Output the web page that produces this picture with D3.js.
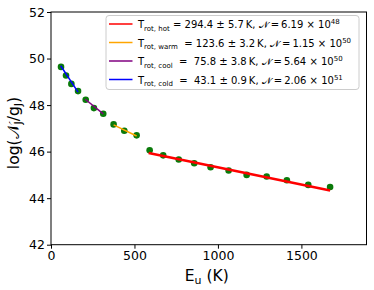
<!DOCTYPE html>
<html>
<head>
<meta charset="utf-8">
<script src="https://cdn.jsdelivr.net/npm/d3@7"></script>
<style>
  body { margin: 0; background: #fff; }
  text { font-family: "DejaVu Sans", sans-serif; }
</style>
</head>
<body>
<svg id="chart" width="374" height="290"></svg>
<script>
// measured points (E_u in K, log N/g)
const energies = [60, 90, 122, 162, 208, 257, 313, 375, 439, 513, 591, 672, 765, 858, 956, 1064, 1172, 1292, 1413, 1541, 1672];
const logN = [49.64, 49.27, 48.91, 48.60, 48.23, 47.87, 47.63, 47.17, 46.90, 46.70, 46.06, 45.84, 45.66, 45.50, 45.33, 45.19, 45.00, 44.93, 44.77, 44.57, 44.48];

// fitted components: endpoints [E start, E end], [log start, log end]
const fitNames = ['hot', 'warm', 'cool', 'cold'];
const fitColors = ['red', 'orange', 'purple', 'blue'];
const fitE = [[585, 1672], [375, 513], [205, 313], [58, 162]];
const fitLog = [[45.94, 44.33], [47.15, 46.67], [48.25, 47.62], [49.69, 48.56]];
const fitEq = [' = ', '  = ', '  =  ', '  =  '];
const fitT = ['294.4 ± 5.7', '123.6 ± 3.2', '75.8 ± 3.8', '43.1 ± 0.9'];
const fitNtot = ['6.19', '1.15', '5.64', '2.06'];
const fitExp = ['48', '50', '50', '51'];

const xTicks = [0, 500, 1000, 1500];
const yTicks = [42, 44, 46, 48, 50, 52];

const svg = d3.select('#chart');
const mLeft = 51, mRight = 366.5, mTop = 12, mBottom = 244.7;

const x = d3.scaleLinear().domain([0, 1890]).range([mLeft, mRight]);
const y = d3.scaleLinear().domain([42, 52]).range([mBottom, mTop]);

// axes
svg.append('g')
    .attr('transform', 'translate(0,' + mBottom + ')')
    .call(d3.axisBottom(x).tickValues(xTicks).tickFormat(d3.format('d')).tickSize(4).tickPadding(2))
    .call(g => g.selectAll('text').attr('font-size', 12.5).attr('fill', '#000'));

svg.append('g')
    .attr('transform', 'translate(' + mLeft + ',0)')
    .call(d3.axisLeft(y).tickValues(yTicks).tickSize(4).tickPadding(2))
    .call(g => g.selectAll('text').attr('font-size', 12.5).attr('fill', '#000'));

svg.selectAll('.domain').remove();
svg.append('rect')
    .attr('x', mLeft).attr('y', mTop)
    .attr('width', mRight - mLeft).attr('height', mBottom - mTop)
    .attr('fill', 'none').attr('stroke', '#000').attr('stroke-width', 1);

// points
svg.append('g')
    .selectAll('circle')
    .data(energies)
    .enter()
    .append('circle')
    .attr('cx', d => x(d))
    .attr('cy', (d, i) => y(logN[i]))
    .attr('r', 3.3)
    .attr('fill', '#0a7a0a');

// fit lines
svg.append('g')
    .selectAll('line')
    .data(fitNames)
    .enter()
    .append('line')
    .attr('x1', (d, i) => x(fitE[i][0]))
    .attr('x2', (d, i) => x(fitE[i][1]))
    .attr('y1', (d, i) => y(fitLog[i][0]))
    .attr('y2', (d, i) => y(fitLog[i][1]))
    .attr('stroke', (d, i) => fitColors[i])
    .attr('stroke-width', (d, i) => i == 0 ? 2.5 : 1.5);

// legend
let legend = svg.append('g');
legend.append('rect')
    .attr('x', 106).attr('y', 15.5)
    .attr('width', 253).attr('height', 74)
    .attr('rx', 3)
    .attr('fill', '#fff').attr('fill-opacity', 0.8)
    .attr('stroke', '#ccc').attr('stroke-width', 1);

fitNames.forEach(function(name, i) {
    let ly = 24 + i * 18.5;
    legend.append('line')
        .attr('x1', 109).attr('x2', 132.5)
        .attr('y1', ly).attr('y2', ly)
        .attr('stroke', fitColors[i]).attr('stroke-width', 1.5);
    let t = legend.append('text')
        .attr('x', 138).attr('y', ly + 4)
        .attr('font-size', 10).attr('fill', '#000')
        .attr('textLength', null)
        .style('white-space', 'pre');
    t.append('tspan').text('T');
    t.append('tspan').attr('font-size', 7).attr('dy', 2.5).text('rot, ' + name);
    t.append('tspan').attr('dy', -2.5).text(fitEq[i] + fitT[i] + '\u2009K, ');
    t.append('tspan').text('\u{1D4A9}');
    t.append('tspan').text('\u2009=\u2009' + fitNtot[i] + ' × 10');
    t.append('tspan').attr('font-size', 7).attr('dy', -4).text(fitExp[i]);
});

// axis labels
svg.append('text')
    .attr('x', (mLeft + mRight) / 2 - 2).attr('y', 281)
    .attr('text-anchor', 'middle')
    .attr('font-size', 15.5)
    .call(t => {
        t.append('tspan').text('E');
        t.append('tspan').attr('font-size', 11).attr('dy', 3).text('u');
        t.append('tspan').attr('dy', -3).text(' (K)');
    });

svg.append('text')
    .attr('transform', 'translate(19,133) rotate(-90)')
    .attr('text-anchor', 'middle')
    .attr('font-size', 15.5)
    .call(t => {
        t.append('tspan').text('log(');
        t.append('tspan').text('\u{1D4A9}');
        t.append('tspan').attr('font-size', 11).attr('dy', 3).text('J');
        t.append('tspan').attr('dy', -3).text('/g');
        t.append('tspan').attr('font-size', 11).attr('dy', 3).text('J');
        t.append('tspan').attr('dy', -3).text(')');
    });
</script>
</body>
</html>
